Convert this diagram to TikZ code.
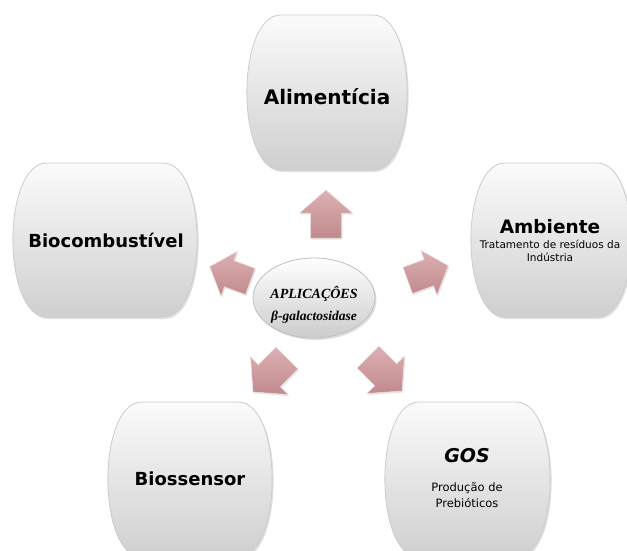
\documentclass[tikz,border=0pt]{standalone}
\usepackage{fontspec}
\setmainfont{DejaVu Sans}
\newfontfamily\serifbi{Liberation Serif}
\usetikzlibrary{shapes.geometric,shadows}
\definecolor{arrlight}{HTML}{DDB0B3}
\definecolor{arrdark}{HTML}{C08A8D}
\definecolor{boxtop}{HTML}{FBFBFB}
\definecolor{boxbot}{HTML}{CFCFCF}
\newcommand\barrelbox[4]{%
  \path[barrelstyle]
    ({#1+34},#2) -- ({#3-34},#2)
    .. controls ({#3+11.5},#2) and ({#3+11.5},#4) .. ({#3-34},#4)
    -- ({#1+34},#4)
    .. controls ({#1-11.5},#4) and ({#1-11.5},#2) .. ({#1+34},#2) -- cycle;}
\newcommand\blockarrow[4]{%
  \path[arrowstyle, shift={(#1,#2)}, rotate=#3, scale=#4]
    (-24,-15.5) -- (1,-15.5) -- (1,-26.5) -- (24,0) -- (1,26.5) -- (1,15.5) -- (-24,15.5) -- cycle;}
\tikzset{
  barrelstyle/.style={top color=boxtop, bottom color=boxbot, draw=gray!40, line width=0.8pt,
    drop shadow={opacity=0.25, shadow xshift=1.5pt, shadow yshift=-2pt}},
  arrowstyle/.style={top color=arrlight, bottom color=arrdark, draw=white!75!arrdark, line width=0.5pt,
    drop shadow={opacity=0.2, shadow xshift=1pt, shadow yshift=-1.5pt}},
  title/.style={font=\bfseries\fontsize{#1}{#1}\selectfont, inner sep=0pt, anchor=base},
  sub/.style={font=\fontsize{#1}{#1}\selectfont, inner sep=0pt, anchor=base},
}
\begin{document}
\begin{tikzpicture}[x=1pt,y=-1pt]
\useasboundingbox (0,0) rectangle (627,550);
\clip (0,0) rectangle (627,550);
\fill[white] (0,0) rectangle (627,550);
% boxes
\barrelbox{247}{15}{407}{170}
\barrelbox{13}{163}{197}{317}
\barrelbox{471}{163}{631}{317}
\barrelbox{108}{402}{272}{557}
\barrelbox{385}{402}{550}{557}
% arrows
\blockarrow{326}{214}{90}{1}
\blockarrow{230}{274}{160}{0.9}
\blockarrow{428}{273}{20}{0.9}
\blockarrow{270}{375}{225}{1}
\blockarrow{385}{374}{-45}{1}
% center ellipse
\node[ellipse, minimum width=122pt, minimum height=80pt, top color=white, bottom color=gray!40,
  draw=gray!50, line width=0.8pt, drop shadow={opacity=0.25, shadow xshift=1.5pt, shadow yshift=-2pt}]
  (center) at (314,298) {};
\node[font=\serifbi\bfseries\itshape\fontsize{14}{14}\selectfont, inner sep=0pt, anchor=base] (c1) at (314,298) {APLICAÇÔES};
\node[font=\serifbi\bfseries\itshape\fontsize{13.5}{13.5}\selectfont, inner sep=0pt, anchor=base] (c2) at (314,320) {β-galactosidase};
% texts
\node[title=20] (alim) at (327,104) {Alimentícia};
\node[title=18] (bioc) at (106,247) {Biocombustível};
\node[title=18.5] (amb) at (550,233) {Ambiente};
\node[sub=10.5] (amb1) at (550,248) {Tratamento de resíduos da};
\node[sub=10.5] (amb2) at (550,261) {Indústria};
\node[title=18] (bios) at (190,485) {Biossensor};
\node[font=\bfseries\itshape\fontsize{19}{19}\selectfont, inner sep=0pt, anchor=base] (gos) at (467,462) {GOS};
\node[sub=11.5] (gos1) at (467,491) {Produção de};
\node[sub=11.5] (gos2) at (467,507) {Prebióticos};
\end{tikzpicture}
\end{document}
